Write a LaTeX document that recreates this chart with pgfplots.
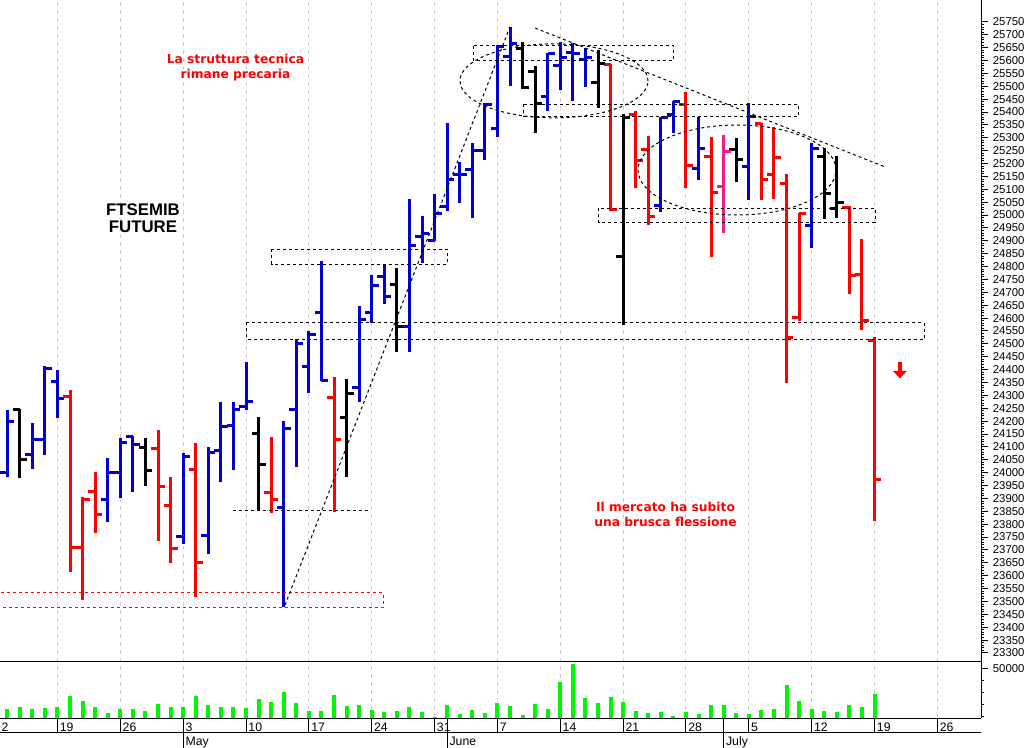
\documentclass[border=0pt]{standalone}
\usepackage{pgfplots}
\pgfplotsset{compat=1.18}
\usepackage{pgfplotstable}
\usepackage{fontspec}
\setmainfont{Liberation Sans}
\newfontfamily\dvs{DejaVu Sans}

\definecolor{cblue}{RGB}{0,0,210}
\definecolor{cred}{RGB}{255,0,0}
\definecolor{cpink}{RGB}{240,30,140}
\definecolor{cgreen}{RGB}{0,245,0}
\definecolor{cgrid}{RGB}{205,205,215}

\pgfplotstableread{
d o h l c
-4 24001 24243 23984 24197
-2 24072 24194 24014 24127
-1 24127 24415 24069 24403
0 24352 24399 24212 24286
4 23897 24057 23809 23999
5 23999 24135 23901 24119
6 24142 24142 23925 24111
10 23754 24076 23723 24061
12 23757 24099 23684 24080
13 24085 24275 23965 24181
14 24185 24276 24010 24247
15 24255 24429 24243 24278
18 23863 24201 23478 24170
19 24247 24519 24022 24503
20 24414 24550 24309 24538
21 24623 24823 24356 24359
24 24332 24647 24274 24596
25 24623 24767 24581 24728
26 24760 24806 24655 24682
28 24566 25063 24468 24880
29 24915 24997 24814 24930
30 24903 25081 24900 25008
31 25035 25357 25016 25140
32 25156 25206 25047 25156
33 25175 25280 24989 25249
34 25249 25435 25214 25431
35 25338 25660 25303 25653
36 25614 25731 25501 25668
39 25459 25630 25404 25626
40 25579 25672 25486 25610
41 25630 25668 25443 25626
42 25603 25649 25498 25610
48 25039 25381 25012 25377
49 25392 25443 25319 25439
51 25179 25381 25136 25260
55 25190 25435 25058 25381
60 24961 25280 24872 25260
}\tblue

\pgfplotstableread{
d o h l c
1 24294 24320 23614 23711
2 23711 23905 23505 23897
3 23925 24003 23766 23836
8 24092 24166 23735 23945
9 23874 23984 23649 23707
11 24014 24115 23517 23653
17 23922 24139 23844 23894
22 24290 24371 23847 24127
44 25583 25587 25016 25020
46 25389 25404 25105 25210
47 25253 25307 24962 24996
50 25428 25478 25105 25194
52 25229 25303 24837 25089
56 25357 25357 25058 25140
57 25156 25342 25062 25222
58 25124 25159 24348 24526
59 24604 25008 24589 25008
63 25031 25035 24693 24767
64 24771 24906 24554 24589
65 24515 24527 23812 23972
}\tred

\pgfplotstableread{
d o h l c
-3 24247 24247 23980 24050
7 24096 24135 23949 24010
16 24153 24216 23851 24032
23 24216 24363 23983 24309
27 24732 24794 24468 24569
37 25645 25672 25489 25497
38 25556 25579 25319 25435
43 25513 25641 25416 25587
45 24841 25392 24573 25380
54 25253 25299 25128 25214
61 25229 25260 24985 25082
62 25027 25229 24989 25050
}\tblack

\pgfplotstableread{
d o h l c
53 25109 25311 24930 25245
}\tpink

\pgfplotstableread{
d v
-4 15850
-3 17540
-2 15850
-1 16690
0 18050
1 27120
2 23130
3 17540
4 12960
5 15850
6 15850
7 14400
8 20080
9 17800
10 18050
11 27120
12 19240
13 17800
14 17540
15 16690
16 24830
17 22290
18 30510
19 21190
20 14400
21 14400
22 27970
23 18390
24 19240
25 15250
26 13560
27 14400
28 17800
29 13300
30 9320
31 19240
32 11860
33 15250
34 12710
35 20930
36 18900
37 11020
38 20080
39 15850
40 39240
41 54240
42 25170
43 20930
44 26020
45 22030
46 14660
47 12460
48 13810
49 10170
50 13810
51 11610
52 19740
53 19740
54 12960
55 11610
56 15250
57 15850
58 36190
59 22880
60 16100
61 14660
62 13300
63 19740
64 18050
65 28560
}\tvol

\pgfplotsset{
  hl/.style={draw=none, mark=none, forget plot,
    error bars/y dir=both, error bars/y explicit, error bars/error mark=none,
    error bars/error bar style={draw=#1, line width=2.25pt, solid}},
  op/.style={draw=none, mark=none, forget plot,
    error bars/x dir=minus, error bars/x fixed=0.55, error bars/error mark=none,
    error bars/error bar style={draw=#1, line width=2.25pt, solid}},
  cl/.style={draw=none, mark=none, forget plot,
    error bars/x dir=plus, error bars/x fixed=0.55, error bars/error mark=none,
    error bars/error bar style={draw=#1, line width=2.25pt, solid}},
  rightax/.style={
    axis line style={-, black, line width=0.75pt},
    yticklabel pos=right, ytick pos=right, tick align=outside,
    major tick length=5.25pt, minor tick length=2.25pt,
    ytick style={black, line width=0.75pt},
    minor y tick style={black, line width=0.75pt},
    yticklabel style={font=\fontsize{8.5}{10}\selectfont, anchor=west, inner sep=0pt, xshift=3.5pt},
    scaled y ticks=false,
    xmin=-4.574, xmax=73.47,
    xtick={0,5,...,70}, xticklabels={}, xtick style={draw=none},
    xmajorgrids, major grid style={cgrid, line width=0.75pt, dash pattern=on 3pt off 3pt},
  },
}
\tikzset{dsh/.style={line width=0.75pt, dash pattern=on 2.25pt off 2.25pt}}

\newcommand{\ohlc}[2]{%
  \addplot[hl=#1] table[x=d, y expr={(\thisrow{h}+\thisrow{l})/2}, y error expr={(\thisrow{h}-\thisrow{l})/2}] {#2};
  \addplot[op=#1] table[x=d, y=o] {#2};
  \addplot[cl=#1] table[x=d, y=c] {#2};
}

\begin{document}
\begin{tikzpicture}
\useasboundingbox (0,0) rectangle (772.5pt,561pt);

% ---------- price panel ----------
\begin{axis}[
  at={(0pt,561pt)}, anchor=north west,
  scale only axis, width=735.75pt, height=496.5pt,
  ymin=23265, ymax=25835,
  axis x line*=bottom, axis y line*=right,
  rightax,
  ytick={23300,23350,...,25750}, minor y tick num=4,
  /pgf/number format/1000 sep={}, /pgf/number format/assume math mode=true,
]
\ohlc{cblue}{\tblue}
\ohlc{cred}{\tred}
\ohlc{black}{\tblack}
\ohlc{cpink}{\tpink}

\draw[cred, dsh] (axis cs:-6,23534) rectangle (axis cs:25.90,23476);
\draw[black, dsh] (axis cs:13.96,23852) -- (axis cs:24.78,23852);
\draw[black, dsh] (axis cs:18.10,23486) -- (axis cs:36.0,25731);
\draw[black, dsh] (axis cs:17.04,24867) rectangle (axis cs:31.01,24810);
\draw[black, dsh] (axis cs:15.05,24583) rectangle (axis cs:68.96,24518);
\draw[black, dsh] (axis cs:33.08,25657) rectangle (axis cs:48.99,25600);
\draw[black, dsh] (axis cs:37.11,25430) rectangle (axis cs:58.93,25382);
\draw[black, dsh] (axis cs:43.04,25027) rectangle (axis cs:65.04,24972);
\draw[black, dsh] (axis cs:39.5,25521) ellipse [x radius=70.5pt, y radius=27.75pt];
\draw[black, dsh] (axis cs:54.06,25175) ellipse [x radius=74.25pt, y radius=33.75pt];
\draw[black, dsh] (axis cs:38.0,25726) -- (axis cs:65.83,25187);

\fill[cred] (axis cs:66.84,24430) rectangle (axis cs:67.20,24395);
\fill[cred] (axis cs:66.46,24395) -- (axis cs:67.58,24395) -- (axis cs:67.02,24366) -- cycle;

\node[cred, font=\dvs\bfseries\fontsize{9.2}{11.25}\selectfont, align=center]
  at (axis cs:14.16,25573) {La struttura tecnica\\rimane precaria};
\node[black, font=\bfseries\fontsize{12.6}{12.75}\selectfont, align=center]
  at (axis cs:6.80,24989) {FTSEMIB\\FUTURE};
\node[cred, font=\dvs\bfseries\fontsize{9.2}{11.25}\selectfont, align=center]
  at (axis cs:48.37,23836) {Il mercato ha subito\\una brusca flessione};
\end{axis}

% ---------- volume panel ----------
\begin{axis}[
  at={(0pt,64.5pt)}, anchor=north west,
  scale only axis, width=735.75pt, height=42pt,
  ymin=8470, ymax=55930,
  axis x line*=box, axis y line*=right,
  rightax,
  ytick={50000}, yticklabels={50000},
  minor ytick={10000,20000,30000,40000},
]
\addplot[ycomb, draw=cgreen, line width=3pt, mark=none] table[x=d, y=v] {\tvol};
\end{axis}

% ---------- day row ----------
\begin{axis}[
  at={(0pt,22.5pt)}, anchor=north west,
  scale only axis, width=735.75pt, height=11.25pt,
  xmin=-4.574, xmax=73.47, ymin=0, ymax=1,
  axis x line*=bottom, axis y line=none,
  axis line style={-, black, line width=0.75pt},
  clip=false,
  xtick={0,5,...,70},
  xticklabels={19,26,3,10,17,24,31,7,14,21,28,5,12,19,26},
  xtick style={draw=none}, ytick=\empty,
  xmajorgrids, major grid style={black, solid, line width=0.75pt},
  xticklabel style={font=\fontsize{9.2}{10}\selectfont, anchor=base west, inner sep=0pt, xshift=1.6pt, yshift=1.1pt},
]
\node[font=\fontsize{9.2}{10}\selectfont, anchor=base west, inner sep=0pt, yshift=1.1pt] at (axis cs:-4.46,0) {2};
\end{axis}

% ---------- month row ----------
\begin{axis}[
  at={(0pt,22.5pt)}, anchor=north west,
  scale only axis, width=735.75pt, height=22.5pt,
  xmin=-4.574, xmax=73.47, ymin=0, ymax=1,
  axis line style={draw=none},
  xtick={10,31,53}, xticklabels={May,June,July},
  xtick style={draw=none}, ytick=\empty,
  xmajorgrids, major grid style={black, solid, line width=0.75pt},
  xticklabel style={font=\fontsize{9.2}{10}\selectfont, anchor=base west, inner sep=0pt, xshift=1.6pt, yshift=1.9pt},
]
\end{axis}
\end{tikzpicture}
\end{document}
